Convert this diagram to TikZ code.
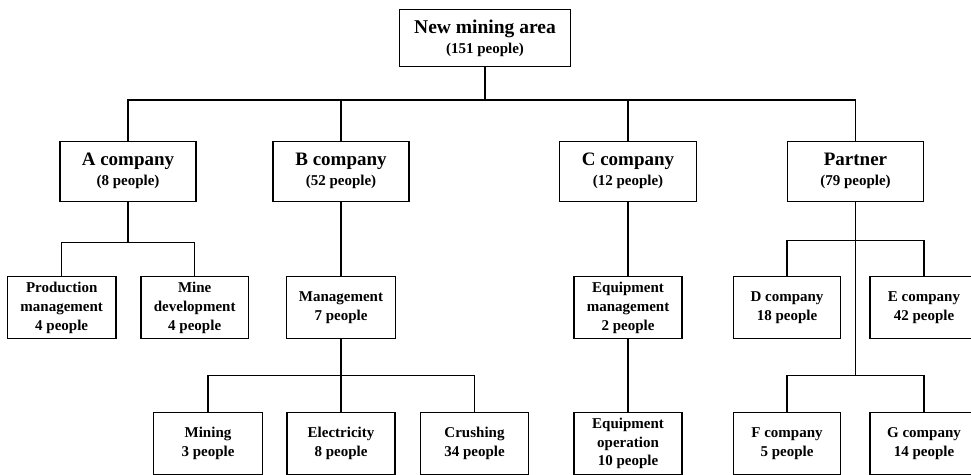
\documentclass[tikz,border=0pt]{standalone}
\usepackage{fontspec}
\setmainfont{Liberation Serif}
\begin{document}
\begin{tikzpicture}[x=1pt,y=-1pt,
  orgbox/.style={draw=black, line width=1.4pt, fill=white, inner sep=0pt, align=center},
  lvltwo/.style={orgbox, minimum width=136pt, minimum height=60pt, font=\fontsize{15}{20}\selectfont\bfseries},
  lvlthree/.style={orgbox, minimum width=108pt, minimum height=62pt, font=\fontsize{15}{18.7}\selectfont\bfseries},
  wire/.style={line width=1.4pt, draw=black}]
\useasboundingbox (0,0) rectangle (971,474);
% coordinates for bars
\coordinate (bar1) at (0,100);
\coordinate (barA) at (0,242.3);
\coordinate (barB) at (0,375.3);
\coordinate (barP1) at (0,240.7);
\coordinate (barP2) at (0,375.3);
% top
\node[orgbox, minimum width=171pt, minimum height=57pt, font=\fontsize{15}{20}\selectfont\bfseries] (top) at (485,38) {{\fontsize{19.5}{20}\selectfont New mining area}\\(151 people)};
% level 2
\node[lvltwo] (A) at (128,171.3) {{\fontsize{19}{20}\selectfont A company}\\(8 people)};
\node[lvltwo] (B) at (341,171.3) {{\fontsize{19}{20}\selectfont B company}\\(52 people)};
\node[lvltwo, minimum width=136.7pt] (C) at (628,171.3) {{\fontsize{19}{20}\selectfont C company}\\(12 people)};
\node[lvltwo] (P) at (855.5,171.3) {{\fontsize{19}{20}\selectfont Partner}\\(79 people)};
% level 3
\node[lvlthree, minimum width=108.7pt] (PM) at (61.7,307.7) {Production\\management\\4 people};
\node[lvlthree, minimum width=107.3pt] (MD) at (194.7,307.7) {Mine\\development\\4 people};
\node[lvlthree, minimum width=109pt] (MG) at (341,307.7) {Management\\7 people};
\node[lvlthree] (EM) at (628,307.7) {Equipment\\management\\2 people};
\node[lvlthree, minimum width=107.4pt] (D) at (787,307.7) {D company\\18 people};
\node[lvlthree] (E) at (924,307.7) {E company\\42 people};
% level 4
\node[lvlthree, minimum width=108.7pt] (Mi) at (208,443.5) {Mining\\3 people};
\node[lvlthree] (El) at (341,443.5) {Electricity\\8 people};
\node[lvlthree] (Cr) at (474.5,443.5) {Crushing\\34 people};
\node[lvlthree] (EO) at (628,443.5) {Equipment\\operation\\10 people};
\node[lvlthree, minimum width=107.5pt] (F) at (787,443.5) {F company\\5 people};
\node[lvlthree] (G) at (924,443.5) {G company\\14 people};
% connectors top
\draw[wire] (top.south) -- (top.south |- bar1);
\draw[wire] (A.north) -- (A.north |- bar1) -- (P.north |- bar1) -- (P.north);
\draw[wire] (B.north) -- (B.north |- bar1);
\draw[wire] (C.north) -- (C.north |- bar1);
% A branch
\draw[wire] (A.south) -- (A.south |- barA);
\draw[wire] (PM.north) -- (PM.north |- barA) -- (MD.north |- barA) -- (MD.north);
% B branch
\draw[wire] (B.south) -- (MG.north);
\draw[wire] (MG.south) -- (El.north);
\draw[wire] (Mi.north) -- (Mi.north |- barB) -- (Cr.north |- barB) -- (Cr.north);
% C branch
\draw[wire] (C.south) -- (EM.north);
\draw[wire] (EM.south) -- (EO.north);
% Partner branch
\draw[wire] (P.south) -- (P.south |- barP2);
\draw[wire] (D.north) -- (D.north |- barP1) -- (E.north |- barP1) -- (E.north);
\draw[wire] (F.north) -- (F.north |- barP2) -- (G.north |- barP2) -- (G.north);
\end{tikzpicture}
\end{document}
